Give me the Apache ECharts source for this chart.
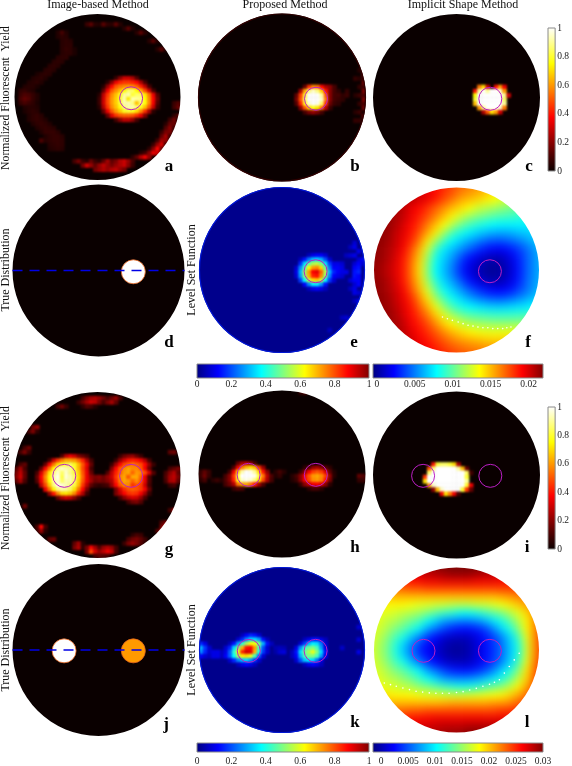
<!DOCTYPE html>
<html>
<head>
<meta charset="utf-8">
<script src="https://cdn.jsdelivr.net/npm/echarts@6/dist/echarts.min.js"></script>
<style>
  html, body { margin: 0; padding: 0; background: #fff; }
  .layer { position: absolute; left: 0; top: 0; width: 572px; height: 766px; }
  #smooth { filter: blur(4px); }
  #fine { filter: blur(1.3px); }
</style>
</head>
<body>
<div id="smooth" class="layer"></div>
<div id="fine" class="layer"></div>
<div id="top" class="layer"></div>
<script>
// colour maps, evenly spaced stops
const hotColors = ['#0a0000', '#550000', '#aa0000', '#ff0000', '#ff5500', '#ffaa00', '#ffff00', '#ffff80', '#ffffff']
const jetColors = ['#00007f', '#0000ff', '#0080ff', '#00ffff', '#80ff80', '#ffff00', '#ff8000', '#ff0000', '#7f0000']

const letters = ['a', 'b', 'c', 'd', 'e', 'f', 'g', 'h', 'i', 'j', 'k', 'l']
const columnTitles = ['Image-based Method', 'Proposed Method', 'Implicit Shape Method']

// sparse panels: 40 x 40 cells, each entry is [row, first column, percent, percent, ...]
const panelA = [
  [2,17,8,13,5,4,13,6],[2,23,5,13,5],[3,26,5,13,4],[4,29,5,13,5],[6,32,5,13,4],[8,34,5,13,4],
  [4,10,4,10,4],[5,10,4,6,5],[6,11,5,6,5],[7,11,5,6,6],[8,11,5,7,6,3],[9,11,5,6,6,3],
  [10,10,5,6,6],[11,9,5,6,5],[12,8,5,6,5],[13,7,5,6,5],[14,5,3,5,6,5],[15,4,4,5,6,4],
  [16,3,4,5,6,4],[17,2,4,5,5,3],[18,1,6,7,5,4],[19,1,8,11,10,7,4],[20,1,10,14,12,7,4],
  [21,1,7,10,8,6,3],[22,2,4,5,5,4],[23,2,3,5,6,5],[24,3,4,6,7,5],[25,3,4,6,7,6,4],
  [26,4,4,6,7,6,4],[27,5,4,6,7,6,5],[28,6,4,7,7,7,5],[29,7,4,6,7,7,5],[30,6,11,5,6,7,7,6],
  [31,8,5,6,7,6],[32,8,4,5,6,5],
  [21,38,8,12],[22,38,9,15],[24,38,6,11],[25,37,9,16],[26,36,5,15,15],[27,36,12,20,9],[28,35,8,18,18],
  [29,35,15,25,9],[30,34,9,24,22],[31,33,8,22,32,9],[32,32,6,20,38,16],[33,30,5,9,20,34,30,9],[34,28,6,14,26,35,22],
  [35,14,10,17,8,5,15,8,5,14,24,14,18,26,30,22,10],[36,16,17,30,22,14,22,28,22,17,22,26,30,20,8],[37,19,17,22,26,22,26,28,22,17],
  [15,24,8,20,30,30,25,12],[16,22,6,20,35,42,45,45,42,38,25,10],[17,21,5,22,38,50,55,58,60,58,52,42,28,10],
  [18,21,15,35,50,58,65,75,85,85,75,62,48,30,10],[19,20,5,28,45,58,66,78,90,92,80,85,85,72,55,35,12],
  [20,20,8,30,48,60,68,80,92,72,92,90,88,75,58,38,15],[21,20,8,30,48,60,68,80,92,92,88,66,86,76,58,36,12],
  [22,20,5,26,45,58,66,76,88,92,92,86,78,66,50,30,8],[23,21,15,35,50,60,68,78,80,78,70,58,44,24,5],
  [24,22,15,32,45,50,52,52,50,44,34,18],[25,24,10,20,28,28,22,10]
]
const panelB = [
  [17,25,15,45,58,55,38,25,20,10],[18,24,25,62,88,95,88,68,40,20,10,6],[19,23,14,46,80,100,100,100,90,50,20,10,10,6],
  [20,23,18,50,85,100,100,100,95,55,20,10,8,6],[21,23,12,42,78,96,100,98,85,45,16,8,6],[22,24,20,50,70,78,72,55,26,8],
  [23,25,10,18,22,18,10],
  [18,35,7],[19,35,8],[13,38,5,7],[15,37,7,5,7],[17,38,7,8],[19,37,5,8,10],[21,38,7,10],[23,37,5,8],[25,37,7,7],
  [12,39,12],[14,39,14],[16,39,16],[18,39,18],[20,39,18],[22,39,16],[24,39,14],[26,39,12]
]
const panelC = [
  [17,25,55,70,30,0,40,60,35],[18,24,40,90,100,90,100,100,95,60],[19,24,75,100,100,100,100,100,100,90,30],
  [20,24,80,100,100,100,100,100,100,85],[21,24,65,100,100,100,100,100,100,90],[22,25,60,90,100,100,100,95,55],[23,26,25,50,70,60,30]
]
const panelD = []
const panelE = [
  [16,26,6,10,12,12,8],[17,24,6,14,24,32,34,30,20,8],[18,24,16,34,46,54,56,50,36,18,10,10,8],
  [19,23,8,26,44,62,72,74,66,48,24,12,12,10],[20,23,10,30,52,72,88,90,78,56,30,16,12,10,10],
  [21,23,8,28,50,70,84,86,74,52,26,12,10,8],[22,24,18,38,56,66,68,58,38,18,8],[23,25,12,26,36,36,28,14],[24,26,6,10,12,10,6],
  [13,37,8],[14,36,6,10],[15,38,10],[16,35,6,8,10],[17,38,8,12],[18,37,8,12,8],[19,37,12,14],[20,37,14,16],
  [21,37,14,12],[22,36,8,12,12],[23,37,8,12],[24,36,6,10],[25,37,10,8],[27,37,6,10],[31,34,6,8],[34,31,6]
]
const panelG = [
  [15,11,12,28,35,30,20,15,10],[15,25,8,16,20,22,15,8],
  [16,8,10,30,45,55,62,62,60,52,42,25,10],[16,24,8,22,32,40,42,40,35,25,10],
  [17,7,15,38,55,70,78,82,85,78,65,50,35,15],[17,23,8,24,38,48,52,56,52,48,38,22,8],
  [18,6,15,38,55,75,90,95,92,90,80,65,48,32,10],[18,23,20,38,50,58,62,58,58,50,36,16],
  [19,5,10,32,52,72,88,95,85,95,88,82,68,50,34,15],[19,22,12,28,42,52,60,62,52,60,58,48,32,12],
  [20,5,15,38,58,76,92,98,82,96,92,85,70,52,34,22,18,20,16,22,30,45,58,62,50,62,62,52,35,12],
  [21,5,12,35,55,75,90,96,85,92,92,85,68,50,34,24,16,18,16,20,26,42,55,62,60,52,58,50,34,12],
  [22,6,28,48,68,88,98,96,92,88,82,65,45,28,14,8,6,8,10,22,38,50,58,58,45,50,46,30,10],
  [23,7,35,55,75,88,92,90,85,72,55,38,18],[23,24,18,32,44,50,52,50,46,36,16],
  [24,8,22,40,58,70,72,68,58,42,25,8],[24,24,18,28,38,44,46,44,36,24,8],
  [25,10,15,25,30,28,20,10],[25,25,10,20,28,32,30,22,10],[26,27,10,16,18,12],
  [1,16,10,18,24,26,22,16,10,16,22,10],[2,15,8,16,24,30,28,18,10,18,24,14],[3,16,6,12,10,5],[3,10,10,16,8],
  [8,4,16,22],[9,3,10,18,6],[17,1,10,14],[18,0,12,24,10],[19,0,18,28,14],[20,0,20,30,14],[21,0,14,24,10],
  [13,2,10,16],[14,1,10,18,8],[18,37,10,14,18],[19,36,10,20,26,14],[20,36,12,24,28,18],[21,36,10,24,26,14],[22,37,8,10],
  [14,37,14,16],[28,37,10,22],[31,35,12,18,10],[32,35,18,30,8],[33,34,12,22],[32,5,10,38,10],[33,5,8,22,5],
  [35,8,14,16],[27,2,16],[36,14,14,24,5],[37,14,18,26,6],[37,17,18,36,24,12,22,26,22,10],[38,17,18,48,32,22,28,35,28,10],
  [39,19,10,14,12,10],[34,28,6,10,8],[35,27,10,16,18,14,8],[36,26,8,18,22,18,12,6]
]
const panelH = [
  [17,9,15,25,28,22,10],[18,8,12,35,55,65,70,65,45,22],[19,7,10,35,68,92,100,98,90,70,40,20],
  [20,6,10,20,45,82,100,100,100,98,82,55,28,12],[21,5,5,12,20,42,78,95,98,96,88,72,48,25,10],
  [22,6,10,16,26,55,62,62,55,42,25,12],[23,8,8,12,10],
  [18,25,6,12,22,25,20,12,6],[19,24,8,20,36,46,50,46,32,14,4],[20,22,5,10,20,36,50,60,62,58,46,22,5],
  [21,22,4,8,20,36,48,58,60,56,40,18],[22,24,8,20,30,36,38,34,20,6],[23,26,6,10,10,6],
  [19,18,5,10,5],[20,18,4,7],[19,0,7,14,8],[20,0,8,16,7],[21,0,5,10],[21,3,5,8,5],[20,38,14,12],[21,38,7,8],[0,24,7,10]
]
const panelI = [
  [17,14,40,80,85,85,80,70,25],[18,13,50,85,100,100,100,100,100,90,65,15],[19,13,85,100,100,100,100,100,100,100,100,85,10],
  [20,12,45,100,100,100,100,100,100,100,100,100,80],[21,12,70,100,100,100,100,100,100,100,100,100,90],
  [22,13,60,95,100,100,100,100,100,100,100,80,35],[23,14,20,65,95,100,100,100,100,80,45,15],[24,16,35,70,55,35,10]
]
const panelJ = []
const panelK = [
  [16,10,6,12,16,14,8],[17,9,8,16,26,34,34,28,14,6],[18,7,6,14,28,42,54,62,62,50,30,14,6],
  [19,6,8,16,34,50,70,86,88,72,44,20,8],[20,5,6,10,22,42,62,84,92,90,70,40,18,8],[21,5,6,12,22,38,54,64,66,60,44,22,8],
  [22,7,8,16,26,32,34,28,18,8],[23,9,6,10,12,10,6],
  [17,25,6,10,14,14,10,6],[18,24,8,18,30,36,34,24,8],[19,23,10,26,42,48,50,44,28,10],[20,22,6,14,34,48,54,60,50,34,14],
  [21,22,6,12,30,44,50,50,44,28,10],[22,23,8,20,32,36,34,24,10],[23,25,6,10,12,10,6],
  [19,18,5,6,5],[20,18,4,8,9],[18,0,16,10],[19,0,30,18,8],[20,0,26,16,8,10,10],[21,0,12,8,6,10,10],
  [14,38,8],[17,38,8],[20,38,10],[19,34,7]
]

// full panels: 22 x 22 cells, in units of 0.001
const panelF = [
  [22,22,22,22,21.5,21,20.5,20,19.5,19,18,17.5,17,16.5,16,15.5,14.5,14,13,12.5,12,12],
  [22,22,22,22,21.5,21,20.5,20,19.5,18.5,18,17,16.5,16,15.5,14.5,14,13,12.5,12,11.5,11],
  [22,22,22,22,21.5,21,20.5,20,19,18,17,16,15.5,15,14.5,14,13.2,12.5,12,11.5,11,10.5],
  [22,22,22,21.5,21,20,19.5,18.5,17.5,16.5,15.5,14.8,14,13,12.5,12,11.5,11,10.5,10,9.5,9],
  [22,22,22,21.5,21,20,19,18,16.8,15.5,14.2,13,12,11.3,10.8,10.3,10,9.8,9.5,9,8.8,8.5],
  [22,22,22,21.5,20.5,19.5,18.5,17,15.5,14,12.5,11,10,9.3,8.8,8.4,8.2,8.2,8.2,8.2,8.2,8],
  [22,22,22,21,20.3,19.2,17.8,16,14.3,12,10,9,8.2,7.5,7,6.6,6.5,6.6,7,7.2,7.6,7.8],
  [22,22,21.8,21,20,18.8,17,14.5,12,9.8,8.4,7.4,6.5,5.8,5,4.6,4.6,5,5.5,6.2,7,7.5],
  [22,22,21.5,20.8,19.8,18,15.8,13,9.8,8,7,6,5,4,3.2,2.7,2.7,3.2,4,5,6.2,7],
  [22,22,21.5,20.6,19.3,17.5,15.2,12,8.8,7.4,6.2,4.6,3.2,2.4,1.6,1.2,1.4,2.2,3.4,4.8,6,7],
  [22,21.8,21.2,20.4,19.2,17.2,14.8,11.5,8.4,7,5.6,3.8,2.4,1.5,.8,.6,.9,1.8,3.2,4.8,6,7],
  [22,21.8,21.2,20.4,19.2,17.2,14.8,11.5,8.4,7,5.6,3.8,2.4,1.5,.8,.6,.9,1.8,3.2,4.8,6,7],
  [22,22,21.5,20.6,19.3,17.5,15.2,12.2,9.4,7.6,6.4,5,3.4,2.4,1.6,1.2,1.4,2.2,3.4,5,6.2,7],
  [22,22,21.5,20.8,19.8,18,15.8,13.2,10.5,8.6,7.4,6.2,5,4,3.2,2.8,2.8,3.2,4.2,5.2,6.4,7.2],
  [22,22,21.8,21,20,18.8,16.8,14.6,12,10,8.6,7.6,6.6,5.8,5.2,4.8,4.8,5.2,5.8,6.5,7.2,7.8],
  [22,22,21.8,21.2,20.3,19.2,17.6,15.8,13.6,11.6,10,9,8.4,8,7.6,7.4,7.4,7.6,7.8,8,8.4,8.6],
  [22,22,22,21.5,20.5,19.5,18.4,17,15.2,13.4,12,11,10.3,10,9.8,9.6,9.6,9.6,9.7,9.8,10,10],
  [22,22,22,21.5,21,19.8,19,18,16.5,15,14,13,12.4,12,11.8,11.6,11.6,11.6,11.6,11.6,11.6,11.6],
  [22,22,22,21.5,21,20.2,19.4,18.6,17.6,16.5,15.5,14.8,14.2,13.8,13.6,13.6,13.6,13.6,13.6,13.6,13.4,13.4],
  [22,22,22,21.8,21.2,20.5,19.8,19.2,18.4,17.6,16.8,16.2,15.8,15.5,15.2,15,15,15,15,15,15,15],
  [22,22,22,22,21.5,20.8,20.2,19.6,19,18.4,17.8,17.4,17,16.8,16.5,16.3,16.2,16.2,16.2,16.2,16.2,16.2],
  [22,22,22,22,21.5,21,20.5,20,19.5,19,18.5,18,17.6,17.4,17,17,17,17,17,17,17,17]
]
const panelL = [
  [26,26,27,27,28,28,29,29,30,30,30,30,30,30,30,29.5,29,29,28,28,27,27],
  [25,25,26,26,27,27,28,28.5,29,29.5,30,30,30,29.5,29,28.5,28,28,27,27,26,26],
  [24,24,24.5,25,25.5,26,26.5,27,27,27.5,27.5,27.5,27.5,27,27,27,26.5,26.5,26,26,25.5,25],
  [22,22,22.5,23,23.5,24,24,24.5,24.5,24.5,24.5,24.5,24.5,24.5,24.5,24.5,24.5,24.5,24.5,24.5,24.5,24.5],
  [20,20,20.5,21,21,21,21,21,21,21,21,21,21,21,21,21,21.5,22,22.5,23,23.5,24],
  [19,19,19,19,19,18.5,18,18,17.5,17.5,17,17,17,17.5,17.5,18,18.5,19.5,20.5,21.5,22.5,24],
  [18.5,18,18,17.5,17,16.5,16,15,14,13,12.5,11.5,11.5,12,13,14,15,16.5,18,20,22,24],
  [18,18,17,16.5,15.5,14.5,13.5,11.5,10,8.5,8,7.5,7.5,8,9,10.5,12,14,16.5,19,22,24],
  [18,17.5,16.5,15,14,12.5,11,8.5,7,5.5,4.5,4,4,4.5,5.5,7.5,10,12,15,19,22,24.5],
  [18,17,15.5,13.5,12,9.5,7.5,5.2,3.8,2.5,2,1.8,2,3,4.2,5.5,7.5,10,13,18,22,25],
  [18,16.5,15,12.5,10,7.5,5.2,3.8,2.6,1.6,1,1,1.5,2.6,4,5.2,7,9.5,12,17.5,22,25],
  [18,16.5,15,12.5,10,7.5,5.2,3.8,2.6,1.6,1,1,1.5,2.6,4,5.2,7,9.5,12,17.5,22,25],
  [18,17,15.5,13.5,12,9.5,7.5,5.2,3.8,2.5,2,1.8,2,3,4.2,5.5,7.5,10,13,18,22.5,25],
  [18,17.5,16.5,15,14,12.5,11,8.5,7,5.5,4.5,4.2,4.2,4.8,5.8,7.5,10,12,15,19.5,23,25.5],
  [18.5,18,17,16.5,15.5,14.5,13,11.5,10,8.5,8,7.8,8,8.5,9.5,10.5,12,14,17,20,23.5,26],
  [19,18.5,18,17.5,17,16.5,15.5,15,14,13.2,12.5,12,12,12.5,13.5,14.5,15.5,17,19,21.5,24,26],
  [20,19.5,19.5,19,19,18.8,18.4,18,18,17.6,17.5,17.5,17.8,18,18.4,18.6,19,20,21.5,23,25,26],
  [21,21,21,21,21,21,21,21,21,21.2,21.5,21.5,21.5,21.5,21.5,22,22,22.5,23.5,24.5,26,26.5],
  [23,23,23,23.5,23.5,24,24,24.5,24.5,24.5,24.5,24.5,24.5,24.5,24.5,24.5,25,25,25.5,26,27,27],
  [25,25,25,25.5,26,26,26.5,26.5,27,27,27,27,27,27,27,27,27,27,27,27.5,27.5,27.5],
  [26,26,26.5,27,27,27.5,27.5,28,28,28.5,28.5,28.5,29,29,29,29,29,29,28.5,28.5,28,28],
  [26,27,27,27.5,28,28,28.5,29,29,29,29.5,29.5,30,30,30,30,30,30,29,29,28.5,28]
]

// true source positions in disk units
const sourcesOne = [[0.405, -0.015]]
const sourcesTwo = [[-0.4, -0.01], [0.405, -0.01]]
const trueSources = { d: ['#ffffff'], j: ['#ffffff', '#ff9a00'] }

// white specks left on the f and l surfaces
const specksF = [[-.17,-.57],[-.11,-.59],[-.05,-.61],[.02,-.63],[.08,-.65],[.14,-.67],[.2,-.68],[.26,-.69],[.32,-.7],[.38,-.7],[.44,-.71],[.5,-.71],[.56,-.71],[.61,-.7],[.66,-.69]]
const specksL = [[-.875,-.4],[-.8,-.42],[-.73,-.44],[-.65,-.46],[-.57,-.48],[-.49,-.5],[-.41,-.51],[-.33,-.52],[-.25,-.525],[-.17,-.525],[-.09,-.525],[0,-.515],[.08,-.505],[.16,-.485],[.24,-.465],[.32,-.44],[.4,-.415],[.46,-.39],[.52,-.36],[.58,-.28],[.64,-.2],[.7,-.12],[.76,-.04]]

// colour bar tick labels
const ticksUnit = [0, 0.2, 0.4, 0.6, 0.8, 1]
const ticksF = [0, 0.005, 0.01, 0.015, 0.02]
const ticksL = [0, 0.005, 0.01, 0.015, 0.02, 0.025, 0.03]

// page layout
const disks = {
  a: { cx: 97.5, cy: 97, r: 83, bg: '#0a0000' },
  b: { cx: 282, cy: 97.5, r: 84, bg: '#0a0000', rim: '#300000' },
  c: { cx: 456.5, cy: 97.5, r: 83.5, bg: '#0a0000' },
  d: { cx: 98.5, cy: 270.5, r: 86, bg: '#0a0000' },
  e: { cx: 282, cy: 270, r: 83, bg: '#00008c', rim: '#0018d8' },
  f: { cx: 456.5, cy: 270, r: 82.5 },
  g: { cx: 97.5, cy: 475, r: 83, bg: '#0a0000' },
  h: { cx: 282, cy: 474, r: 83.5, bg: '#0a0000' },
  i: { cx: 456.5, cy: 475, r: 83.5, bg: '#0a0000' },
  j: { cx: 98.5, cy: 650, r: 86, bg: '#0a0000' },
  k: { cx: 282, cy: 650, r: 83, bg: '#00008c', rim: '#0018d8' },
  l: { cx: 456.5, cy: 650, r: 82.5 }
}
const letterSpots = {
  a: [169, 167], b: [355, 167], c: [529, 167], d: [169, 343], e: [354, 343], f: [528, 343],
  g: [169, 550], h: [355, 548], i: [527, 548], j: [166, 725], k: [355, 723], l: [527, 723]
}
const FONT = '"Liberation Serif", "Times New Roman", serif'

const indexList = n => Array.from({ length: n }, (_, i) => i)

// expand [row, col, v, v, ...] entries to heatmap cells
const expandSegments = segments => {
  const out = []
  segments.forEach(([row, col, ...vals]) => {
    vals.forEach((v, i) => { if (v > 0) out.push([col + i, row, v]) })
  })
  return out
}
const expandRows = rows => {
  const out = []
  rows.forEach((vals, row) => vals.forEach((v, col) => out.push([col, row, v])))
  return out
}

const categoryAxis = (gridIndex, n, inverse) => ({
  type: 'category', gridIndex, show: false, inverse, data: indexList(n)
})

// fine layer, the sparse panels
const finePanels = [
  ['a', panelA, 'hot'], ['b', panelB, 'hot'], ['c', panelC, 'hot'], ['d', panelD, 'hot'], ['e', panelE, 'jet'],
  ['g', panelG, 'hot'], ['h', panelH, 'hot'], ['i', panelI, 'hot'], ['j', panelJ, 'hot'], ['k', panelK, 'jet']
]
const fineChart = echarts.init(document.getElementById('fine'))
fineChart.setOption({
  animation: false,
  grid: finePanels.map(([name]) => {
    const d = disks[name]
    return { left: d.cx - d.r, top: d.cy - d.r, width: 2 * d.r, height: 2 * d.r }
  }),
  xAxis: finePanels.map((p, i) => categoryAxis(i, 40, false)),
  yAxis: finePanels.map((p, i) => categoryAxis(i, 40, true)),
  visualMap: [
    { show: false, min: 0, max: 100, inRange: { color: hotColors },
      seriesIndex: indexList(finePanels.length).filter(i => finePanels[i][2] === 'hot') },
    { show: false, min: 0, max: 100, inRange: { color: jetColors },
      seriesIndex: indexList(finePanels.length).filter(i => finePanels[i][2] === 'jet') }
  ],
  // backing disks, a little wider so the blur does not thin the edge
  graphic: finePanels.map(([name]) => {
    const d = disks[name]
    return { type: 'circle', z: 0, shape: { cx: d.cx, cy: d.cy, r: d.r + 3 }, style: { fill: d.bg } }
  }),
  series: finePanels.map(([name, segments], i) => ({
    type: 'heatmap', xAxisIndex: i, yAxisIndex: i, z: 2, data: expandSegments(segments)
  }))
})

// smooth layer, the two full surfaces, grids reach a bit past the disk
const smoothPanels = [['f', panelF, 22.4], ['l', panelL, 30]]
const smoothChart = echarts.init(document.getElementById('smooth'))
smoothChart.setOption({
  animation: false,
  grid: smoothPanels.map(([name]) => {
    const d = disks[name]
    return { left: d.cx - 1.1 * d.r, top: d.cy - 1.1 * d.r, width: 2.2 * d.r, height: 2.2 * d.r }
  }),
  xAxis: smoothPanels.map((p, i) => categoryAxis(i, 22, false)),
  yAxis: smoothPanels.map((p, i) => categoryAxis(i, 22, true)),
  visualMap: smoothPanels.map((p, i) => ({
    show: false, min: 0, max: p[2], inRange: { color: jetColors }, seriesIndex: i
  })),
  series: smoothPanels.map(([name, rows], i) => ({
    type: 'heatmap', xAxisIndex: i, yAxisIndex: i, data: expandRows(rows)
  }))
})

// top layer: mask, rings, dashed lines, colour bars, text
const holes = letters.map(l => {
  const { cx, cy, r } = disks[l]
  return `M${cx - r} ${cy}A${r} ${r} 0 1 0 ${cx + r} ${cy}A${r} ${r} 0 1 0 ${cx - r} ${cy}Z`
}).join('')
const maskPath = 'M0 0L572 0L572 766L0 766Z' + holes

const barItem = (colors, vertical) => (params, api) => {
  const start = api.coord(vertical ? [0, api.value(0)] : [api.value(0), 0])
  const end = api.coord(vertical ? [1, api.value(1)] : [api.value(1), 1])
  const stops = colors.map((color, i) => ({ offset: i / (colors.length - 1), color }))
  const fill = vertical
    ? new echarts.graphic.LinearGradient(0, 1, 0, 0, stops)
    : new echarts.graphic.LinearGradient(0, 0, 1, 0, stops)
  return {
    type: 'rect',
    shape: { x: start[0], y: end[1], width: end[0] - start[0], height: start[1] - end[1] },
    style: { fill, stroke: '#8a8a8a', lineWidth: 1 }
  }
}

const colorBars = [
  { left: 197, top: 364, width: 172, height: 14, min: 0, max: 1, ticks: ticksUnit, colors: jetColors, margin: 1 },
  { left: 373, top: 364, width: 170, height: 14, min: -0.0005, max: 0.0219, ticks: ticksF, colors: jetColors, margin: 1 },
  { left: 197, top: 743, width: 172, height: 13, min: 0, max: 1, ticks: ticksUnit, colors: jetColors, margin: 4 },
  { left: 373, top: 743, width: 170, height: 13, min: -0.0015, max: 0.03, ticks: ticksL, colors: jetColors, margin: 4 },
  { left: 548, top: 28, width: 11, height: 143, min: 0, max: 1, ticks: ticksUnit, colors: hotColors, vertical: true, margin: 2 },
  { left: 548, top: 407, width: 11, height: 142, min: 0, max: 1, ticks: ticksUnit, colors: hotColors, vertical: true, margin: 2 }
]

const diskNames = letters
const ringSources = {
  a: sourcesOne, b: sourcesOne, c: sourcesOne, e: sourcesOne, f: sourcesOne,
  g: sourcesTwo, h: sourcesTwo, i: sourcesTwo, k: sourcesTwo, l: sourcesTwo
}

const unitAxis = gridIndex => ({ type: 'value', gridIndex, show: false, min: -1, max: 1 })
const tickAxis = (gridIndex, bar) => ({
  type: 'value', gridIndex, min: bar.min, max: bar.max, z: 6,
  position: bar.vertical ? 'right' : 'bottom',
  axisLine: { show: false },
  splitLine: { show: false },
  axisTick: { show: false },
  axisLabel: {
    customValues: bar.ticks, formatter: v => String(v), margin: bar.margin,
    fontFamily: FONT, fontSize: 9.5, color: '#222'
  }
})
const hiddenAxis = gridIndex => ({ type: 'value', gridIndex, show: false, min: 0, max: 1 })

const topSeries = [{
  // white page with a hole per disk, hides the square corners of the heatmaps
  type: 'custom', coordinateSystem: 'none', z: 1, silent: true, data: [[0]],
  renderItem: () => ({
    type: 'path',
    shape: { pathData: maskPath, x: 0, y: 0, width: 572, height: 766, layout: 'cover' },
    style: { fill: '#ffffff' }
  })
}]
diskNames.forEach((name, i) => {
  const base = { xAxisIndex: i, yAxisIndex: i, z: 5, silent: true }
  if (ringSources[name]) {
    topSeries.push({
      ...base, type: 'scatter', symbolSize: 23, data: ringSources[name],
      itemStyle: { color: 'rgba(0,0,0,0)', borderColor: '#bc1fc4', borderWidth: 1, opacity: 1 }
    })
  }
  if (trueSources[name]) {
    const spots = name === 'd' ? sourcesOne : sourcesTwo
    topSeries.push({
      ...base, type: 'scatter', symbolSize: 24,
      data: spots.map((p, k) => ({ value: p, itemStyle: { color: trueSources[name][k], opacity: 1 } })),
      itemStyle: { borderColor: '#e8641e', borderWidth: 0.8, opacity: 1 }
    })
    topSeries.push({
      ...base, type: 'line', symbol: 'none', z: 6, data: [[-1, 0], [1, 0]],
      lineStyle: { color: '#0000e6', width: 1.6, type: [10, 7] }
    })
  }
  if (name === 'f' || name === 'l') {
    topSeries.push({
      ...base, type: 'scatter', symbolSize: 1.6, data: name === 'f' ? specksF : specksL,
      itemStyle: { color: '#ffffff', opacity: 1 }
    })
  }
})
colorBars.forEach((bar, i) => {
  const g = diskNames.length + i
  topSeries.push({
    type: 'custom', xAxisIndex: g, yAxisIndex: g, z: 5, silent: true, clip: false,
    renderItem: barItem(bar.colors, bar.vertical), data: [[bar.min, bar.max]]
  })
})

const textEl = (text, x, y, extra) => ({
  type: 'text', x, y, z: 10,
  style: { text, fontFamily: FONT, fontSize: 12, fill: '#111', textAlign: 'center', textVerticalAlign: 'middle', ...extra }
})
const sideText = (text, x, y, extra) => ({ ...textEl(text, 0, 0, extra), x, y, rotation: Math.PI / 2 })

const topChart = echarts.init(document.getElementById('top'))
topChart.setOption({
  animation: false,
  grid: [
    ...diskNames.map(name => {
      const d = disks[name]
      return { left: d.cx - d.r, top: d.cy - d.r, width: 2 * d.r, height: 2 * d.r }
    }),
    ...colorBars.map(b => ({ left: b.left, top: b.top, width: b.width, height: b.height }))
  ],
  xAxis: [
    ...diskNames.map((n, i) => unitAxis(i)),
    ...colorBars.map((b, i) => b.vertical ? hiddenAxis(diskNames.length + i) : tickAxis(diskNames.length + i, b))
  ],
  yAxis: [
    ...diskNames.map((n, i) => unitAxis(i)),
    ...colorBars.map((b, i) => b.vertical ? tickAxis(diskNames.length + i, b) : hiddenAxis(diskNames.length + i))
  ],
  graphic: [
    ...diskNames.filter(n => disks[n].rim).map(n => ({
      type: 'circle', z: 2, shape: { cx: disks[n].cx, cy: disks[n].cy, r: disks[n].r - 0.5 },
      style: { fill: 'none', stroke: disks[n].rim, lineWidth: 1.2 }
    })),
    textEl(columnTitles[0], 98, 5),
    textEl(columnTitles[1], 285, 5),
    textEl(columnTitles[2], 463, 5),
    sideText('Normalized Fluorescent  Yield', 6, 98, { fontSize: 11.7 }),
    sideText('True Distribution', 6, 270),
    sideText('Level Set Function', 192, 270),
    sideText('Normalized Fluorescent  Yield', 6, 478, { fontSize: 11.7 }),
    sideText('True Distribution', 6, 650),
    sideText('Level Set Function', 192, 650),
    ...letters.map(l => textEl(l, letterSpots[l][0], letterSpots[l][1],
      { fontSize: 17, fontWeight: 'bold', fill: '#000' }))
  ],
  series: topSeries
})
</script>
</body>
</html>
